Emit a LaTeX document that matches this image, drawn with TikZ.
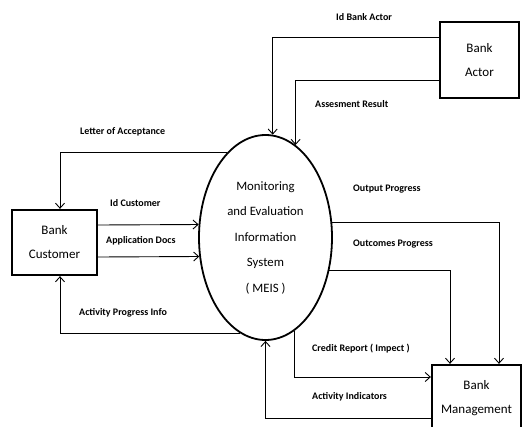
\documentclass[tikz,border=0pt]{standalone}
\usepackage{fontspec}
\setmainfont{Carlito}
\usetikzlibrary{arrows.meta,shapes.geometric}
\begin{document}
\begin{tikzpicture}[x=1pt,y=-1pt,
  entity/.style={draw,line width=2.3pt,rectangle,inner sep=0pt,align=center,
    font=\fontsize{13}{24}\selectfont},
  process/.style={draw,line width=1.8pt,ellipse,inner sep=0pt,align=center,
    minimum width=133pt,minimum height=205pt,font=\fontsize{12.8}{25.5}\selectfont},
  flow/.style={line width=0.9pt,-{Straight Barb[length=5pt,width=9pt,line width=0.9pt]}},
  flowlabel/.style={font=\bfseries\fontsize{10}{12}\selectfont,inner sep=0pt,anchor=west}]
\useasboundingbox (0,0) rectangle (522,426);
\clip (0,0) rectangle (522,426);

% processes and external entities
\node[process] (meis) at (265.5,237.5)
  {Monitoring\\and Evaluation\\Information\\System\\( MEIS )};
\node[entity,minimum width=85pt,minimum height=65pt] (cust) at (54.5,242.5) {Bank\\Customer};
\node[entity,minimum width=79pt,minimum height=76pt] (actor) at (479.5,60) {Bank\\Actor};
\node[entity,minimum width=89pt,minimum height=66pt] (mgmt) at (476.5,398) {Bank\\Management};

% bank actor flows
\draw[flow] (actor.west |- 0,37) -| (meis.86.4);
\draw[flow] (actor.west |- 0,80) -| (meis.72.2);

% bank customer flows
\draw[flow] (meis.114.8) -| (cust.north -| 60,0);
\draw[flow] (cust.east |- 0,225) -- (meis.169.3);
\draw[flow] (cust.east |- 0,257) -- (meis.196.6);
\draw[flow] (meis.255.8) -| (cust.south -| 60,0);

% bank management flows
\draw[flow] (meis.13.3) -| (mgmt.north -| 499,0);
\draw[flow] (meis.333.5) -| (mgmt.north -| 450,0);
\draw[flow] (meis.287.1) |- (mgmt.west |- 0,377);
\draw[flow] (mgmt.west |- 0,418) -| (meis.south);

% flow labels
\node[flowlabel] (lba)  at (336,17)  {Id Bank Actor};
\node[flowlabel] (lar)  at (315,104) {Assesment Result};
\node[flowlabel] (lla)  at (80,132)  {Letter of Acceptance};
\node[flowlabel] (lic)  at (110,203) {Id Customer};
\node[flowlabel] (lad)  at (106,241) {Application Docs};
\node[flowlabel] (lapi) at (79,313)  {Activity Progress Info};
\node[flowlabel] (lop)  at (353,189) {Output Progress};
\node[flowlabel] (locp) at (353,244) {Outcomes Progress};
\node[flowlabel] (lcr)  at (312,349) {Credit Report ( Impect )};
\node[flowlabel] (lai)  at (312,397) {Activity Indicators};
\end{tikzpicture}
\end{document}
